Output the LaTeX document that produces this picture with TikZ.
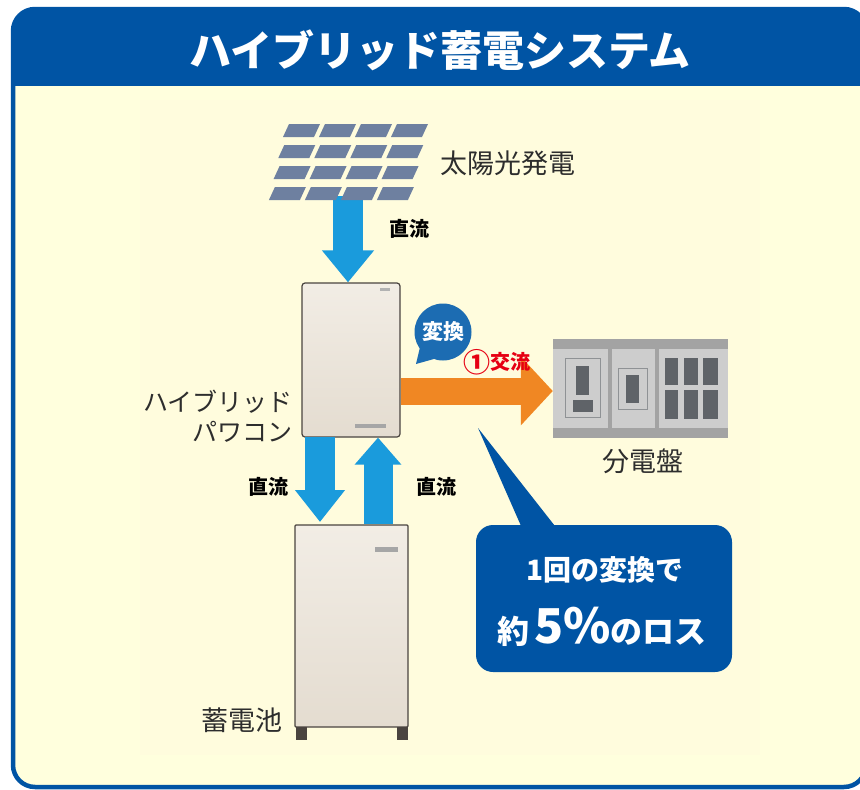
\documentclass[tikz,border=0pt]{standalone}
\usepackage{fontspec}
\usepackage{graphicx}
\setmainfont{Noto Sans CJK JP}
\usetikzlibrary{arrows.meta,calc}

\definecolor{frameblue}{RGB}{0,84,164}
\definecolor{bubbleblue}{RGB}{28,108,178}
\definecolor{cream}{RGB}{255,255,221}
\definecolor{innercream}{RGB}{255,252,221}
\definecolor{sky}{RGB}{26,155,220}
\definecolor{orangearrow}{RGB}{240,135,35}
\definecolor{cellblue}{RGB}{110,128,160}
\definecolor{labelgray}{RGB}{45,45,45}
\definecolor{acred}{RGB}{230,0,18}
\definecolor{boardframe}{RGB}{163,163,163}
\definecolor{boardpanel}{RGB}{205,205,205}
\definecolor{boarddark}{RGB}{95,99,104}
\definecolor{unitedge}{RGB}{74,68,64}
\definecolor{unittop}{RGB}{242,237,229}
\definecolor{unitbot}{RGB}{228,220,208}

\tikzset{
  lbl/.style={font=\fontsize{27}{31}\selectfont, text=labelgray, inner sep=0pt},
  dclbl/.style={font=\bfseries\fontsize{20}{24}\selectfont, text=black, inner sep=0pt},
  skyarrow/.style={draw=sky, line width=30pt, -{Triangle[length=32pt,width=50pt]}},
  unitbox/.style={draw=unitedge, line width=1.2pt, rounded corners=3pt,
    top color=unittop, bottom color=unitbot, inner sep=0pt},
  cell/.style={fill=cellblue},
  darkpart/.style={fill=boarddark},
  thinframe/.style={draw=boarddark!70, line width=0.8pt},
}

\begin{document}
\begin{tikzpicture}[x=1pt,y=-1pt]
\useasboundingbox (0,0) rectangle (860,790);

% outer frame with title bar
\fill[cream, rounded corners=22pt] (13,9) rectangle (866,787);
\begin{scope}
  \clip[rounded corners=22pt] (13,9) rectangle (866,787);
  \fill[frameblue] (0,0) rectangle (870,86);
\end{scope}
\draw[frameblue, line width=4.5pt, rounded corners=22pt] (13,9) rectangle (866,787);
\fill[innercream] (140,100) rectangle (760,755);

\node[font=\bfseries\fontsize{42}{46}\selectfont, text=white, inner sep=0pt]
  (title) at (440,50) {ハイブリッド蓄電システム};

% units
\node[unitbox, minimum width=98pt, minimum height=154pt] (pcs) at (351,360) {};
\node[unitbox, minimum width=113pt, minimum height=202pt, rounded corners=1pt] (batt) at (351.5,626) {};
\fill[unitedge] (296,727) rectangle (307,740);
\fill[unitedge] (397,727) rectangle (408,740);
\fill[gray!70] (355,424) rectangle (386,428);
\fill[gray!60] (380,288) rectangle (390,291);
\fill[gray!70] (375,547) rectangle (398,552);

% solar panel
\coordinate (panelfoot) at (348,196);
\draw[skyarrow] (panelfoot) -- (pcs.north -| panelfoot);
\foreach \r in {0,...,3}{
  \foreach \c in {0,...,3}{
    \pgfmathsetmacro{\xl}{283-4.7*\r+36*\c}
    \pgfmathsetmacro{\yt}{124+21*\r}
    \fill[cell] (\xl,\yt+13) -- (\xl+31,\yt+13) -- (\xl+37,\yt) -- (\xl+6,\yt) -- cycle;
  }
}
\node[lbl, anchor=west] (solarlbl) at (440,163) {太陽光発電};
\node[dclbl] (dc1) at (409,229) {直流};

% distribution board
\node[fill=boardpanel, minimum width=175pt, minimum height=99pt, inner sep=0pt] (board) at (640.5,388.5) {};
\fill[boardframe] (board.north west) rectangle ($(board.north east)+(0,10)$);
\fill[boardframe] ($(board.south west)+(0,-10)$) rectangle (board.south east);
\fill[boardframe] (608,349) rectangle (612,428);
\fill[boardframe] (655,349) rectangle (659,428);
\draw[thinframe] (565,358) rectangle (600,417);
\fill[darkpart] (576,366) rectangle (589,395);
\fill[darkpart] (573,400) rectangle (593,412);
\draw[thinframe] (618,368) rectangle (647,409);
\fill[darkpart] (626,375) rectangle (639,403);
\foreach \xa/\xb in {665/678,684/698,703/718}{
  \fill[darkpart] (\xa,358) rectangle (\xb,385);
  \fill[darkpart] (\xa,390) rectangle (\xb,419);
}
\node[lbl] (boardlbl) at (643,461) {分電盤};

% AC output
\draw[draw=orangearrow, line width=27pt, -{Triangle[length=32pt,width=67pt]}]
  (pcs.east |- 0,391) -- (board.west |- 0,391);
\node[font=\bfseries\fontsize{20}{24}\selectfont, text=acred, inner sep=0pt] (aclbl) at (497,362)
  {\raisebox{-0.12em}{\scalebox{1.35}{①}}交流};

% conversion bubble
\fill[bubbleblue] (421,343) -- (416,364) -- (441,357) -- cycle;
\node[circle, fill=bubbleblue, minimum size=57pt, inner sep=0pt,
  font=\bfseries\fontsize{21}{24}\selectfont, text=white] (conv) at (443,332) {変換};

% PCS label
\node[lbl, font=\fontsize{25}{30}\selectfont, align=right, anchor=east] (pcslbl) at (293,416) {ハイブリッド\\パワコン};

% DC links between PCS and battery
\draw[skyarrow, line width=30pt, -{Triangle[length=32pt,width=48pt]}] (320,437) -- (320,522);
\draw[skyarrow, line width=29pt, -{Triangle[length=27pt,width=45pt]}] (batt.north -| 378,0) -- (pcs.south -| 378,0);
\node[dclbl] (dc2) at (268,487) {直流};
\node[dclbl] (dc3) at (436,487) {直流};
\node[lbl] (battlbl) at (242,720) {蓄電池};

% loss callout
\coordinate (losstip) at (478,428);
\fill[frameblue] (losstip) -- (525,535) -- (562,535) -- cycle;
\node[fill=frameblue, rounded corners=17pt, minimum width=256pt, minimum height=147pt, inner sep=0pt] (loss) at (604,598.5) {};
\node[font=\bfseries\fontsize{28}{32}\selectfont, text=white, inner sep=0pt] (loss1) at (605,570) {1回の変換で};
\node[text=white, inner sep=0pt, anchor=base] (loss2) at (602,643)
  {\bfseries\fontsize{32}{36}\selectfont 約\,\fontsize{48}{52}\selectfont 5\%\fontsize{32}{36}\selectfont のロス};
\end{tikzpicture}
\end{document}
